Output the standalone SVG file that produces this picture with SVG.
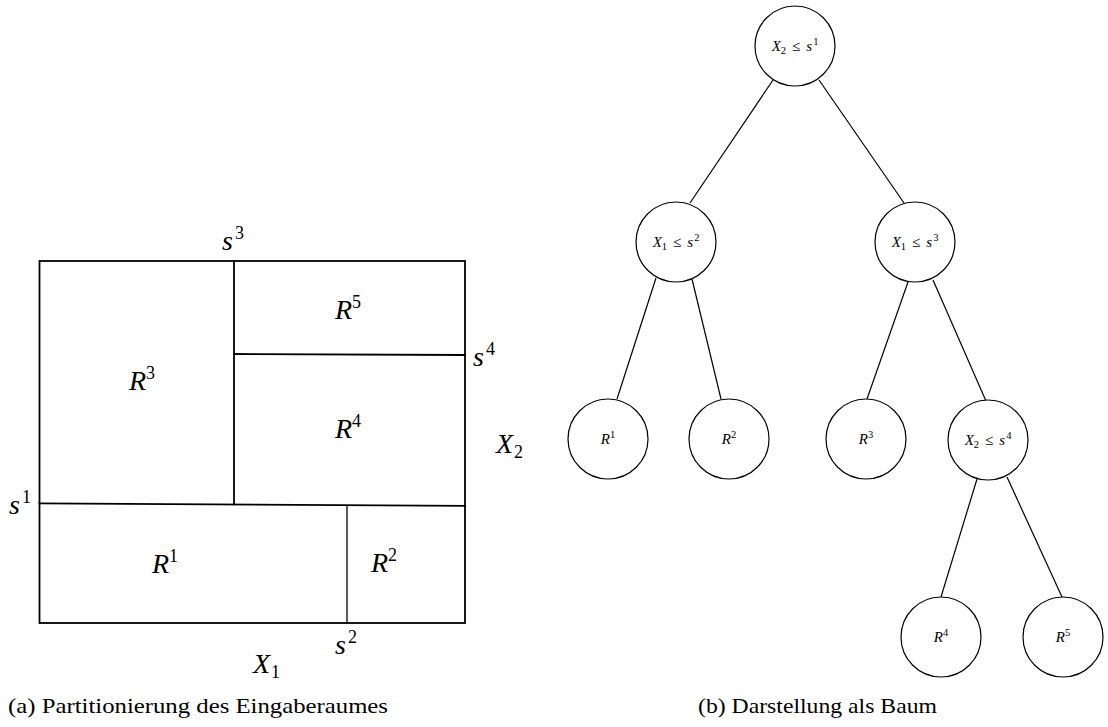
<svg xmlns="http://www.w3.org/2000/svg" width="1108" height="727" viewBox="0 0 1108 727">
<style>
.bg{fill:#fff}
.part{fill:none;stroke:#000;stroke-width:1.8;stroke-linecap:square}
.thin{stroke-width:1.3}
.m{font-style:italic;font-size:28px;fill:#000}
.sp{font-style:normal;font-size:18px}
.node{fill:#fff;stroke:#000;stroke-width:1.2}
.edge{stroke:#000;stroke-width:1.2;fill:none}
.nl{font-style:italic;font-size:15px;fill:#000;text-anchor:middle}
.ns{font-style:normal;font-size:10.5px}
.op{font-style:normal}
.cap{font-size:22px;fill:#000}
</style>
<rect class="bg" x="0" y="0" width="1108" height="727"/>

<g font-family="Liberation Serif, DejaVu Serif, serif">
<g id="partition">
  <rect class="part" x="39.5" y="261" width="425.5" height="362"/>
  <line class="part" x1="39.5" y1="503.3" x2="465" y2="505.8"/>
  <line class="part" x1="234" y1="261" x2="234" y2="504.4"/>
  <line class="part" x1="234" y1="354" x2="465" y2="355"/>
  <line class="part thin" x1="347" y1="505.5" x2="347" y2="623"/>
  <text class="m" x="129" y="390">R<tspan class="sp" dy="-11">3</tspan></text>
  <text class="m" x="335" y="319">R<tspan class="sp" dy="-11">5</tspan></text>
  <text class="m" x="335" y="438">R<tspan class="sp" dy="-11">4</tspan></text>
  <text class="m" x="152" y="573">R<tspan class="sp" dy="-11">1</tspan></text>
  <text class="m" x="371" y="572">R<tspan class="sp" dy="-11">2</tspan></text>
  <text class="m" x="496" y="453">X<tspan class="sp" dx="1" dy="5">2</tspan></text>
  <text class="m" x="253" y="673">X<tspan class="sp" dx="1" dy="5">1</tspan></text>
  <text class="m" x="473" y="366">s<tspan class="sp" dx="2" dy="-11">4</tspan></text>
  <text class="m" x="9" y="514">s<tspan class="sp" dx="2" dy="-11">1</tspan></text>
  <text class="m" x="222" y="250">s<tspan class="sp" dx="2" dy="-11">3</tspan></text>
  <text class="m" x="335" y="654">s<tspan class="sp" dx="2" dy="-11">2</tspan></text>
</g>

<g id="edges">
  <line class="edge" x1="773" y1="80" x2="690" y2="203"/>
  <line class="edge" x1="819" y1="80" x2="904" y2="203"/>
  <line class="edge" x1="656" y1="278" x2="617" y2="399"/>
  <line class="edge" x1="692" y1="279" x2="721" y2="399"/>
  <line class="edge" x1="908" y1="282" x2="867" y2="399"/>
  <line class="edge" x1="933" y1="280" x2="986" y2="401"/>
  <line class="edge" x1="977" y1="479" x2="941" y2="597"/>
  <line class="edge" x1="1007" y1="477" x2="1062" y2="597"/>
</g>

<g id="n-root">
  <circle class="node" cx="795" cy="46" r="40"/>
  <text class="nl" x="795" y="51">X<tspan class="ns" dy="3">2</tspan><tspan class="op" dx="6" dy="-3">≤</tspan><tspan dx="6">s</tspan><tspan class="ns" dx="1" dy="-6">1</tspan></text>
</g>
<g id="n-left">
  <circle class="node" cx="676" cy="242" r="40"/>
  <text class="nl" x="676" y="247">X<tspan class="ns" dy="3">1</tspan><tspan class="op" dx="6" dy="-3">≤</tspan><tspan dx="6">s</tspan><tspan class="ns" dx="1" dy="-6">2</tspan></text>
</g>
<g id="n-right">
  <circle class="node" cx="915" cy="242" r="40"/>
  <text class="nl" x="915" y="247">X<tspan class="ns" dy="3">1</tspan><tspan class="op" dx="6" dy="-3">≤</tspan><tspan dx="6">s</tspan><tspan class="ns" dx="1" dy="-6">3</tspan></text>
</g>
<g id="n-r1">
  <circle class="node" cx="608" cy="439" r="40"/>
  <text class="nl" x="608" y="444">R<tspan class="ns" dy="-6">1</tspan></text>
</g>
<g id="n-r2">
  <circle class="node" cx="729" cy="439" r="40"/>
  <text class="nl" x="729" y="444">R<tspan class="ns" dy="-6">2</tspan></text>
</g>
<g id="n-r3">
  <circle class="node" cx="866" cy="439" r="40"/>
  <text class="nl" x="866" y="444">R<tspan class="ns" dy="-6">3</tspan></text>
</g>
<g id="n-x2s4">
  <circle class="node" cx="988" cy="440" r="40"/>
  <text class="nl" x="988" y="445">X<tspan class="ns" dy="3">2</tspan><tspan class="op" dx="6" dy="-3">≤</tspan><tspan dx="6">s</tspan><tspan class="ns" dx="1" dy="-6">4</tspan></text>
</g>
<g id="n-r4">
  <circle class="node" cx="941" cy="637" r="40"/>
  <text class="nl" x="941" y="642">R<tspan class="ns" dy="-6">4</tspan></text>
</g>
<g id="n-r5">
  <circle class="node" cx="1063" cy="637" r="40"/>
  <text class="nl" x="1063" y="642">R<tspan class="ns" dy="-6">5</tspan></text>
</g>

<text class="cap" x="8" y="713" textLength="380" lengthAdjust="spacingAndGlyphs">(a) Partitionierung des Eingaberaumes</text>
<text class="cap" x="698" y="713" textLength="239" lengthAdjust="spacingAndGlyphs">(b) Darstellung als Baum</text>
</g>
</svg>
